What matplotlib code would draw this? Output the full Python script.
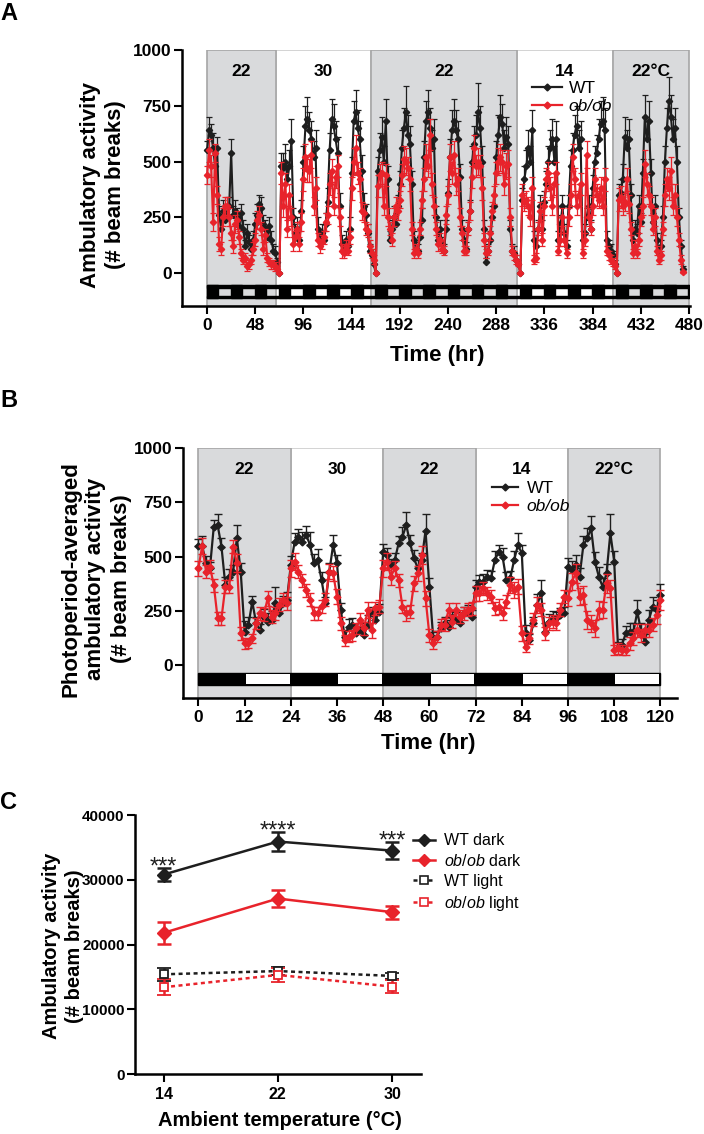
import numpy as np
import matplotlib
matplotlib.use('Agg')
import matplotlib.pyplot as plt
from matplotlib.patches import Rectangle
from matplotlib.lines import Line2D

plt.rcParams['font.family'] = ['Liberation Sans', 'DejaVu Sans']
plt.rcParams['mathtext.fontset'] = 'custom'
plt.rcParams['mathtext.rm'] = 'Liberation Sans'
plt.rcParams['mathtext.it'] = 'Liberation Sans:italic'
plt.rcParams['mathtext.bf'] = 'Liberation Sans:bold'

BLACK = '#1e1e1e'
RED = '#e8232b'
SHADE = '#d9dadc'
SHADE_EDGE = '#a6a6a6'
WHITE_EDGE = '#cccccc'

# ---------------- Panel A: activity over the whole run (2 h bins) ----------------
temps_a = ['22', '30', '22', '14', '22°C']
edges_a = [0, 68.5, 163.5, 308.3, 404, 480]
hours_a = np.arange(0, 476, 2)

wt_a_segs = [
    [550, 640, 620, 560, 480, 560, 260, 200, 280, 240, 260, 300, 540, 260, 280, 250, 210, 270,
     200, 120, 180, 140, 110, 150, 220, 260, 310, 290, 220, 200, 160, 210, 150, 100, 90, 50],
    [0, 480, 470, 500, 420, 480, 590, 250, 180, 200, 150, 280,
     500, 660, 690, 640, 600, 520, 560, 200, 150, 180, 150, 220,
     320, 550, 690, 660, 600, 540, 300, 130, 110, 150, 120, 200,
     450, 680, 720, 650, 600, 460, 300, 260, 180, 100, 80, 40],
    [0, 460, 550, 610, 500, 680, 420, 150, 200, 250, 220, 300,
     400, 560, 650, 720, 620, 580, 400, 150, 110, 100, 160, 240,
     520, 680, 720, 650, 560, 600, 250, 150, 200, 130, 100, 200,
     360, 520, 640, 680, 640, 600, 430, 200, 150, 110, 200, 280,
     500, 580, 620, 720, 650, 500, 200, 50, 100, 150, 250, 300,
     520, 620, 700, 670, 560, 610, 580, 200, 100, 90, 60, 40],
    [0, 330, 420, 480, 560, 500, 640, 150, 120, 200, 300, 200,
     320, 400, 500, 560, 600, 500, 600, 150, 220, 300, 180, 120,
     300, 480, 550, 620, 660, 560, 600, 150, 180, 250, 300, 200,
     380, 500, 540, 600, 670, 680, 640, 150, 120, 100, 80, 40],
    [0, 350, 360, 420, 610, 560, 600, 350, 150, 200, 180, 300, 230,
     450, 700, 600, 680, 450, 230, 300, 150, 90, 120, 250,
     500, 650, 770, 700, 600, 650, 500, 250, 120, 20],
]
ob_a_segs = [
    [440, 550, 480, 230, 540, 350, 130, 110, 250, 300, 300, 250, 180, 120, 220, 240, 160, 90,
     60, 70, 30, 40, 60, 110, 150, 240, 260, 200, 110, 170, 70, 50, 40, 40, 30, 20],
    [0, 450, 300, 400, 200, 350, 250, 130, 160, 200, 130, 230,
     420, 520, 470, 460, 530, 300, 380, 150, 120, 140, 160, 230,
     260, 400, 460, 300, 430, 480, 250, 100, 90, 120, 100, 160,
     380, 500, 560, 450, 420, 280, 270, 200, 190, 120, 90, 60],
    [0, 390, 440, 450, 300, 440, 250, 200, 150, 250, 300, 280,
     330, 440, 510, 500, 470, 420, 200, 90, 110, 90, 200, 330,
     420, 520, 480, 620, 400, 300, 200, 130, 150, 110, 100, 260,
     350, 520, 450, 530, 400, 420, 250, 180, 100, 100, 200, 280,
     430, 560, 480, 500, 480, 380, 150, 90, 100, 180, 280, 350,
     450, 500, 520, 500, 400, 480, 490, 250, 100, 80, 60, 40],
    [0, 350, 320, 330, 300, 250, 380, 60, 70, 200, 280, 150,
     300, 420, 450, 380, 300, 400, 450, 100, 150, 250, 150, 90,
     250, 350, 520, 420, 300, 350, 400, 90, 150, 530, 250, 200,
     300, 420, 350, 330, 380, 300, 420, 100, 80, 60, 50, 30],
    [0, 330, 340, 300, 320, 420, 310, 200, 90, 120, 90, 150, 250,
     300, 490, 400, 350, 300, 200, 250, 100, 60, 80, 200,
     350, 420, 380, 460, 300, 350, 250, 150, 60, 5],
]
wt_a_err_segs = [
    [40, 60, 50, 70, 60, 50, 40, 40, 50, 40, 40, 40, 60, 40, 50, 40, 40, 40,
     40, 30, 40, 30, 30, 40, 50, 50, 40, 50, 40, 40, 40, 40, 40, 30, 30, 20],
    [0, 60, 70, 80, 60, 70, 100, 40, 40, 50, 40, 50, 70, 90, 100, 80, 80, 70, 80, 50, 40, 40, 40, 50,
     60, 80, 90, 100, 80, 70, 60, 40, 30, 40, 30, 50, 70, 90, 100, 80, 80, 70, 60, 50, 40, 30, 30, 20],
    [0, 60, 80, 90, 70, 100, 60, 40, 40, 50, 50, 50, 60, 80, 90, 120, 90, 80, 60, 40, 30, 30, 40, 50,
     70, 90, 100, 90, 80, 90, 50, 40, 40, 30, 30, 40, 60, 80, 90, 100, 90, 80, 60, 40, 40, 30, 40, 50,
     70, 80, 90, 130, 100, 70, 40, 20, 30, 40, 50, 50, 70, 90, 100, 90, 80, 90, 80, 40, 30, 30, 20, 20],
    [0, 50, 60, 70, 80, 70, 90, 40, 30, 40, 50, 40, 50, 60, 70, 80, 90, 70, 80, 40, 40, 50, 40, 30,
     50, 70, 80, 90, 90, 80, 80, 40, 40, 40, 50, 40, 60, 70, 80, 90, 100, 110, 100, 40, 30, 30, 20, 20],
    [0, 50, 60, 70, 90, 80, 90, 50, 40, 40, 40, 50, 40, 60, 100, 80, 90, 60, 40, 50, 30, 20, 30, 50,
     70, 90, 110, 100, 90, 90, 70, 40, 30, 10],
]
ob_a_err_segs = [
    [40, 50, 50, 40, 40, 40, 30, 30, 40, 40, 40, 40, 30, 30, 40, 40, 30, 20,
     20, 20, 20, 20, 20, 30, 30, 40, 40, 30, 30, 30, 20, 20, 20, 20, 20, 10],
    [0, 50, 50, 50, 40, 50, 40, 30, 30, 30, 30, 40, 50, 60, 60, 50, 60, 40, 50, 30, 30, 30, 30, 40,
     40, 50, 50, 40, 50, 50, 40, 30, 20, 30, 20, 30, 50, 60, 60, 50, 50, 40, 40, 30, 30, 30, 20, 20],
    [0, 50, 50, 50, 40, 50, 40, 30, 30, 40, 40, 40, 40, 50, 60, 60, 50, 50, 30, 20, 20, 20, 30, 40,
     50, 60, 50, 70, 50, 40, 30, 30, 30, 20, 20, 40, 40, 60, 50, 60, 50, 50, 40, 30, 20, 20, 30, 40,
     50, 60, 50, 60, 50, 50, 30, 20, 20, 30, 40, 40, 50, 60, 60, 50, 50, 60, 60, 40, 20, 20, 20, 10],
    [0, 50, 40, 40, 40, 40, 50, 20, 20, 30, 40, 30, 40, 50, 50, 50, 40, 50, 50, 20, 30, 40, 30, 20,
     40, 50, 60, 50, 40, 50, 50, 20, 30, 60, 40, 30, 40, 50, 50, 40, 50, 40, 50, 20, 20, 20, 20, 10],
    [0, 50, 50, 40, 40, 50, 40, 30, 20, 30, 20, 30, 40, 40, 60, 50, 40, 40, 30, 40, 20, 20, 20, 30,
     50, 50, 50, 60, 40, 50, 40, 30, 20, 5],
]

# ---------------- Panel B: photoperiod-averaged activity (1 h bins) ----------------
temps_b = ['22', '30', '22', '14', '22°C']
edges_b = [0, 24, 48, 72, 96, 120]
hours_b = np.arange(0, 121)

wt_b = [
    550, 548, 470, 446, 638, 646, 546, 369, 407, 430, 585, 430, 154, 185, 292, 193, 161, 223, 200, 208, 285, 238, 285, 300,
    461, 569, 592, 569, 600, 554, 469, 484, 392, 285, 430, 554, 469, 254, 130, 177, 185, 146, 161, 138, 185, 238, 208, 246,
    523, 508, 461, 484, 561, 592, 646, 561, 492, 446, 484, 620, 361, 123, 131, 169, 192, 177, 223, 208, 192, 238, 246, 223,
    361, 385, 385, 408, 400, 484, 523, 500, 392, 400, 484, 554, 515, 146, 115, 192, 277, 331, 154, 200, 215, 215, 231, 238,
    454, 438, 461, 408, 554, 584, 631, 477, 408, 361, 423, 608, 477, 77, 92, 146, 154, 154, 246, 154, 108, 208, 269, 254, 323,
]
ob_b = [
    446, 549, 430, 454, 369, 215, 215, 361, 361, 546, 470, 146, 100, 100, 123, 193, 238, 231, 308, 223, 238, 277, 300, 285,
    446, 477, 430, 392, 346, 300, 238, 238, 270, 300, 430, 423, 315, 192, 115, 130, 138, 169, 208, 169, 254, 161, 261, 269,
    446, 477, 408, 446, 392, 269, 238, 246, 377, 423, 508, 308, 138, 100, 131, 185, 185, 254, 200, 254, 223, 238, 254, 261,
    331, 331, 354, 331, 315, 261, 269, 238, 292, 369, 346, 361, 146, 85, 123, 208, 277, 254, 146, 192, 200, 192, 254, 315,
    308, 385, 423, 315, 323, 208, 192, 169, 254, 254, 377, 354, 69, 77, 69, 69, 100, 123, 161, 138, 161, 161, 185, 231, 300,
]
wt_b_err = [
    30, 45, 35, 30, 30, 50, 40, 35, 35, 30, 60, 40, 50, 35, 25, 30, 30, 35, 40, 40, 75, 30, 35, 35,
    40, 40, 35, 45, 40, 60, 45, 50, 35, 30, 40, 45, 40, 30, 30, 35, 30, 35, 35, 40, 45, 30, 35, 35,
    35, 30, 30, 35, 35, 45, 60, 40, 40, 40, 35, 75, 40, 30, 25, 30, 30, 30, 25, 35, 30, 30, 30, 30,
    30, 30, 35, 30, 35, 40, 30, 40, 35, 35, 40, 55, 40, 40, 30, 30, 50, 60, 40, 35, 35, 30, 30, 30,
    40, 40, 45, 40, 40, 50, 55, 45, 45, 40, 45, 90, 50, 30, 30, 35, 40, 40, 55, 40, 35, 45, 45, 45, 50,
]
ob_b_err = [
    35, 35, 30, 30, 30, 30, 30, 30, 30, 30, 40, 30, 25, 20, 20, 25, 30, 30, 35, 30, 30, 30, 30, 30,
    40, 40, 30, 30, 30, 30, 30, 30, 30, 30, 35, 35, 35, 30, 25, 25, 25, 25, 30, 30, 35, 35, 30, 30,
    40, 40, 40, 35, 30, 30, 35, 30, 35, 35, 40, 35, 30, 25, 25, 25, 30, 30, 30, 30, 30, 30, 30, 30,
    35, 35, 30, 30, 30, 30, 35, 30, 30, 35, 35, 35, 35, 25, 25, 30, 35, 30, 30, 30, 30, 30, 30, 30,
    35, 40, 45, 40, 40, 40, 40, 40, 40, 35, 45, 40, 25, 25, 25, 25, 30, 30, 30, 30, 30, 30, 30, 40, 45,
]

# ---------------- Panel C: totals vs ambient temperature ----------------
temps_c = [14, 22, 30]
wt_dark = [30800, 35900, 34500]
wt_dark_err = [1000, 1500, 1300]
ob_dark = [21800, 27100, 25000]
ob_dark_err = [1750, 1300, 1000]
wt_light = [15400, 15900, 15150]
wt_light_err = [1000, 600, 500]
ob_light = [13400, 15300, 13500]
ob_light_err = [1250, 1100, 1000]
stars = ['***', '****', '***']


def style_axes(ax, lw=1.8):
    for s in ['top', 'right']:
        ax.spines[s].set_visible(False)
    for s in ['left', 'bottom']:
        ax.spines[s].set_linewidth(lw)
    ax.tick_params(direction='out', length=6, width=1.5)
    ax.tick_params(axis='y', pad=1.5)
    ax.tick_params(axis='x', pad=3)


def shade_regions(ax, edges, labels, ybot, ytop, label_y):
    for i, lab in enumerate(labels):
        x0, x1 = edges[i], edges[i + 1]
        grey = i % 2 == 0
        ax.add_patch(Rectangle((x0, ybot), x1 - x0, ytop - ybot,
                               facecolor=SHADE if grey else 'white',
                               edgecolor=SHADE_EDGE if grey else WHITE_EDGE,
                               lw=1.2, zorder=0.5 if grey else 0.2))
        ax.text((x0 + x1) / 2, label_y, lab, ha='center', va='center',
                fontsize=12.5, fontweight='bold', zorder=6)


fig = plt.figure(figsize=(7.04, 11.34), dpi=100)
fig.patch.set_facecolor('white')

# ===== A =====
axA = fig.add_axes([0.2585, 0.7302, 0.7216, 0.2257])
style_axes(axA)
axA.set_xlim(-25, 481)
axA.set_ylim(-147, 1000)
shade_regions(axA, edges_a, temps_a, -147, 1000, 905)

# light/dark bar: black frame with light-phase windows left open
axA.add_patch(Rectangle((0, -112), 480, 11, color='black', zorder=1))
axA.add_patch(Rectangle((0, -67), 480, 15, color='black', zorder=1))
for d in range(0, 480, 24):
    x0 = max(d - 0.5, 0)
    axA.add_patch(Rectangle((x0, -112), d + 11 - x0, 60, color='black', zorder=1))
axA.add_patch(Rectangle((479.5, -112), 0.5, 60, color='black', zorder=1))

wt_a = np.concatenate(wt_a_segs)
ob_a = np.concatenate(ob_a_segs)
wt_a_err = np.concatenate(wt_a_err_segs)
ob_a_err = np.concatenate(ob_a_err_segs)

axA.errorbar(hours_a, wt_a, yerr=[np.zeros(len(wt_a)), wt_a_err], color=BLACK, marker='D', ms=3.2,
             lw=1.5, elinewidth=0.9, capsize=2, capthick=0.9, zorder=3)
axA.errorbar(hours_a, ob_a, yerr=ob_a_err, color=RED, marker='D', ms=3.2,
             lw=1.5, elinewidth=0.9, capsize=2, capthick=0.9, zorder=4)

axA.set_xticks(np.arange(0, 481, 48))
axA.set_xticklabels([str(v) for v in range(0, 481, 48)], fontsize=12.5, fontweight='bold')
axA.set_yticks([0, 250, 500, 750, 1000])
axA.set_yticklabels(['0', '250', '500', '750', '1000'], fontsize=12.5, fontweight='bold')

leg_handles = [Line2D([], [], color=BLACK, marker='D', ms=3.5, lw=1.6),
               Line2D([], [], color=RED, marker='D', ms=3.5, lw=1.6)]
legA = axA.legend(leg_handles, ['WT', 'ob/ob'], loc='upper left', bbox_to_anchor=(0.689, 0.88),
                  frameon=False, fontsize=12.5, handlelength=1.7, handletextpad=0.4,
                  labelspacing=0.15, borderpad=0, borderaxespad=0)
legA.get_texts()[1].set_style('italic')
legA.set_zorder(7)

fig.text(103 / 704, 1 - 185 / 1134, 'Ambulatory activity\n(# beam breaks)', rotation=90,
         ha='center', va='center', fontsize=16, fontweight='bold', linespacing=1.3)
fig.text(437.5 / 704, 1 - 356 / 1134, 'Time (hr)', ha='center', va='center',
         fontsize=16, fontweight='bold')
fig.text(0.0, 1 - 2 / 1134, 'A', ha='left', va='top', fontsize=17, fontweight='bold')

# ===== B =====
axB = fig.add_axes([0.2599, 0.3849, 0.7017, 0.2198])
style_axes(axB)
axB.set_xlim(-4, 124.3)
axB.set_ylim(-150, 1000)
shade_regions(axB, edges_b, temps_b, -150, 1000, 902)

axB.add_patch(Rectangle((0, -92), 120, 55, color='black', zorder=1))
for d in range(0, 120, 24):
    axB.add_patch(Rectangle((d + 12.3, -87), 11.4, 45, facecolor='white', edgecolor='none', zorder=1.5))

axB.errorbar(hours_b, wt_b, yerr=[np.zeros(len(wt_b)), wt_b_err], color=BLACK, marker='D', ms=3.5,
             lw=1.6, elinewidth=1.0, capsize=3, capthick=1.0, zorder=3)
axB.errorbar(hours_b, ob_b, yerr=ob_b_err, color=RED, marker='D', ms=3.5,
             lw=1.6, elinewidth=1.0, capsize=3, capthick=1.0, zorder=4)

axB.set_xticks(np.arange(0, 121, 12))
axB.set_xticklabels([str(v) for v in range(0, 121, 12)], fontsize=12.5, fontweight='bold')
axB.set_yticks([0, 250, 500, 750, 1000])
axB.set_yticklabels(['0', '250', '500', '750', '1000'], fontsize=12.5, fontweight='bold')

legB = axB.legend(leg_handles, ['WT', 'ob/ob'], loc='upper left', bbox_to_anchor=(0.625, 0.868),
                  frameon=False, fontsize=12.5, handlelength=1.5, handletextpad=0.5,
                  labelspacing=0.15, borderpad=0, borderaxespad=0)
legB.get_texts()[1].set_style('italic')
legB.set_zorder(7)

fig.text(96 / 704, 1 - 579 / 1134, 'Photoperiod-averaged\nambulatory activity\n(# beam breaks)',
         rotation=90, ha='center', va='center', fontsize=16, fontweight='bold', linespacing=1.25)
fig.text(428.5 / 704, 1 - 744 / 1134, 'Time (hr)', ha='center', va='center',
         fontsize=16, fontweight='bold')
fig.text(0.0, 1 - 389 / 1134, 'B', ha='left', va='top', fontsize=17, fontweight='bold')

# ===== C =====
axC = fig.add_axes([0.1918, 0.0529, 0.4058, 0.2284])
style_axes(axC)
axC.set_xlim(12, 32)
axC.set_ylim(0, 40000)

dotted = (0, (1.6, 1.4))
axC.errorbar(temps_c, wt_light, yerr=wt_light_err, color=BLACK, marker='s', ms=6, mfc='white',
             mew=1.3, ls=dotted, lw=1.8, elinewidth=1.8, capsize=5, capthick=1.8, zorder=3)
axC.errorbar(temps_c, ob_light, yerr=ob_light_err, color=RED, marker='s', ms=6, mfc='white',
             mew=1.3, ls=dotted, lw=1.8, elinewidth=1.8, capsize=5, capthick=1.8, zorder=3)
axC.errorbar(temps_c, ob_dark, yerr=ob_dark_err, color=RED, marker='D', ms=7,
             lw=1.8, elinewidth=1.8, capsize=5, capthick=1.8, zorder=4)
axC.errorbar(temps_c, wt_dark, yerr=wt_dark_err, color=BLACK, marker='D', ms=7,
             lw=1.8, elinewidth=1.8, capsize=5, capthick=1.8, zorder=4)

for t, v, e, s in zip(temps_c, wt_dark, wt_dark_err, stars):
    axC.text(t, v + e - 900, s, ha='center', va='baseline', fontsize=17, color=BLACK)

axC.set_xticks(temps_c)
axC.set_xticklabels([str(t) for t in temps_c], fontsize=11.5, fontweight='bold')
axC.set_yticks([0, 10000, 20000, 30000, 40000])
axC.set_yticklabels(['0', '10000', '20000', '30000', '40000'], fontsize=11, fontweight='bold')

c_handles = [Line2D([], [], color=BLACK, marker='D', ms=6.5, lw=1.8),
             Line2D([], [], color=RED, marker='D', ms=6.5, lw=1.8),
             Line2D([], [], color=BLACK, marker='s', ms=5.5, mfc='white', mew=1.2, lw=1.8, ls=dotted),
             Line2D([], [], color=RED, marker='s', ms=5.5, mfc='white', mew=1.2, lw=1.8, ls=dotted)]
c_labels = ['WT dark', r'$\mathit{ob/ob}$ dark', 'WT light', r'$\mathit{ob/ob}$ light']
legC = axC.legend(c_handles, c_labels, loc='upper left', bbox_to_anchor=(0.973, 0.93),
                  frameon=False, fontsize=11.5, handlelength=1.4, handletextpad=0.55,
                  labelspacing=0.3, borderpad=0, borderaxespad=0)

fig.text(63 / 704, 1 - 946 / 1134, 'Ambulatory activity\n(# beam breaks)', rotation=90,
         ha='center', va='center', fontsize=14.5, fontweight='bold', linespacing=1.2)
fig.text(279.5 / 704, 1 - 1121 / 1134, 'Ambient temperature (°C)', ha='center', va='center',
         fontsize=14.5, fontweight='bold')
fig.text(0.0, 1 - 791 / 1134, 'C', ha='left', va='top', fontsize=17, fontweight='bold')

fig.savefig('out.png', dpi=100)
